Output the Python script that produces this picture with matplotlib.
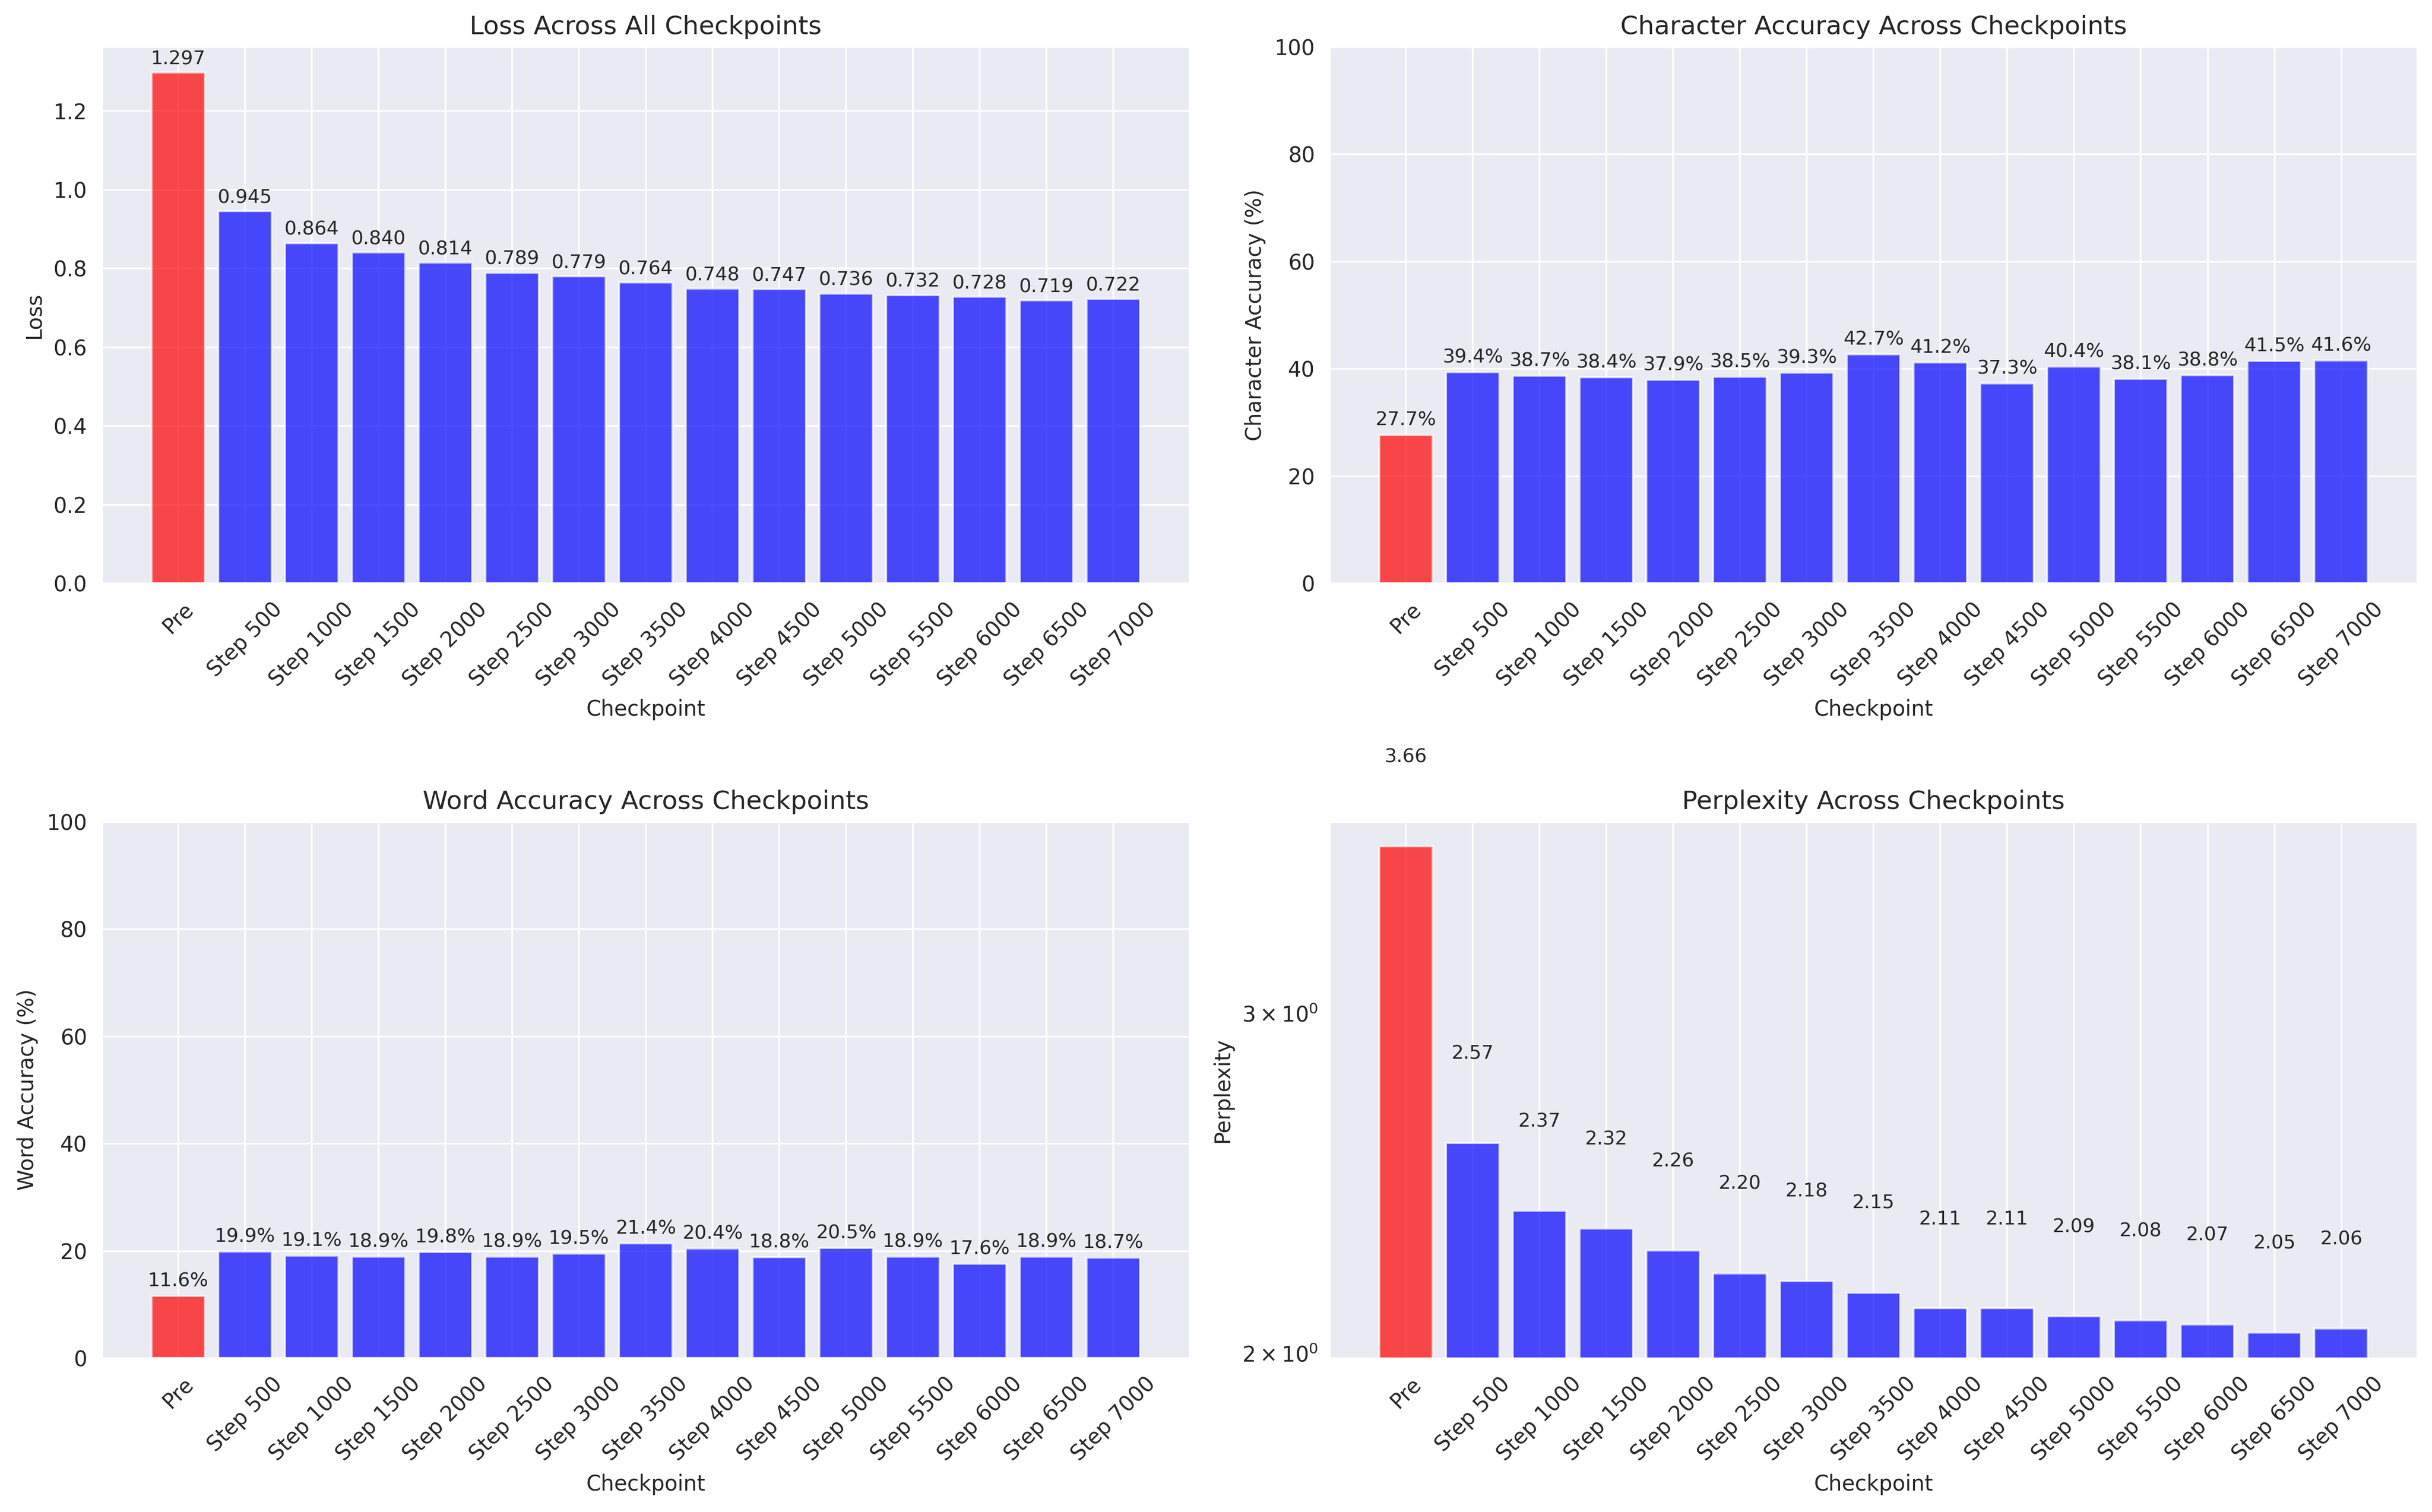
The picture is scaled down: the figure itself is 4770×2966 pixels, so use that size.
import numpy as np
import matplotlib
matplotlib.use('Agg')
import matplotlib.pyplot as plt
import seaborn as sns

# checkpoint names and the metrics read for each one
checkpoints = ['Pre', 'Step 500', 'Step 1000', 'Step 1500', 'Step 2000', 'Step 2500',
               'Step 3000', 'Step 3500', 'Step 4000', 'Step 4500', 'Step 5000',
               'Step 5500', 'Step 6000', 'Step 6500', 'Step 7000']
loss = [1.297, 0.945, 0.864, 0.840, 0.814, 0.789, 0.779, 0.764, 0.748, 0.747,
        0.736, 0.732, 0.728, 0.719, 0.722]
char_acc = [27.7, 39.4, 38.7, 38.4, 37.9, 38.5, 39.3, 42.7, 41.2, 37.3,
            40.4, 38.1, 38.8, 41.5, 41.6]
word_acc = [11.6, 19.9, 19.1, 18.9, 19.8, 18.9, 19.5, 21.4, 20.4, 18.8,
            20.5, 18.9, 17.6, 18.9, 18.7]
perplexity = [3.66, 2.57, 2.37, 2.32, 2.26, 2.20, 2.18, 2.15, 2.11, 2.11,
              2.09, 2.08, 2.07, 2.05, 2.06]

sns.set_style('darkgrid')
plt.rcParams['font.family'] = ['DejaVu Sans']

# first bar (pre-training) in red, the rest in blue
colors = ['red'] + ['blue'] * (len(checkpoints) - 1)
x = np.arange(len(checkpoints))

fig, axes = plt.subplots(2, 2, figsize=(15.9, 2966 / 300))
fig.subplots_adjust(left=0.0419, right=0.9939, top=0.969, bottom=0.1018,
                    wspace=0.129, hspace=0.444)


def bar_panel(ax, values, title, ylabel, fmt, offset):
    bars = ax.bar(x, values, color=colors, alpha=0.7)
    ax.set_title(title)
    ax.set_xlabel('Checkpoint')
    ax.set_ylabel(ylabel)
    ax.set_xticks(x)
    ax.set_xticklabels(checkpoints, rotation=45)
    for b, v in zip(bars, values):
        ax.text(b.get_x() + b.get_width() / 2, offset(v), fmt.format(v),
                ha='center', va='bottom', fontsize=9)
    return bars


# Loss
bar_panel(axes[0, 0], loss, 'Loss Across All Checkpoints', 'Loss',
          '{:.3f}', lambda v: v + 0.01)

# Character accuracy
bar_panel(axes[0, 1], char_acc, 'Character Accuracy Across Checkpoints',
          'Character Accuracy (%)', '{:.1f}%', lambda v: v + 1)
axes[0, 1].set_ylim(0, 100)

# Word accuracy
bar_panel(axes[1, 0], word_acc, 'Word Accuracy Across Checkpoints',
          'Word Accuracy (%)', '{:.1f}%', lambda v: v + 1)
axes[1, 0].set_ylim(0, 100)

# Perplexity on a log axis
ax = axes[1, 1]
ax.set_yscale('log')
bar_panel(ax, perplexity, 'Perplexity Across Checkpoints', 'Perplexity',
          '{:.2f}', lambda v: v * 1.1)
ax.set_ylim(min(perplexity) * 0.97, max(perplexity) * 1.03)

plt.savefig('out.png', dpi=300)
